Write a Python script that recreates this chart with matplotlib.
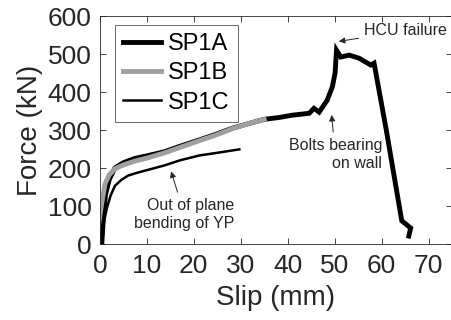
import matplotlib.pyplot as plt

plt.rcParams['font.family'] = ['Liberation Sans', 'DejaVu Sans']

# SP1A - thick black
sp1a_slip = [0.4, 0.8, 1.2, 2.0, 3.2, 5.0, 7.4, 10.0, 13.8, 17.0, 21.2, 25.0, 28.3,
             32.0, 35.0, 38.2, 41.0, 44.6, 45.6, 46.7, 48.4, 49.5, 50.1, 50.4,
             51.3, 53.1, 55.2, 57.0, 57.7, 58.4, 61.0, 64.3, 66.2, 65.8]
sp1a_force = [0, 80, 130, 170, 200, 214, 225, 232, 243, 257, 274, 290, 305,
              318, 328, 333, 339, 344, 357, 347, 378, 413, 450, 510,
              492, 497, 489, 476, 471, 476, 300, 61, 42, 21]

# SP1B - thick grey
sp1b_slip = [-0.4, 0.3, 1.1, 2.0, 3.2, 5.0, 7.4, 10.0, 13.8, 17.0, 21.2, 25.0, 28.3, 32.0, 35.0]
sp1b_force = [40, 100, 159, 182, 198, 208, 218, 226, 240, 254, 272, 288, 304, 318, 328]

# SP1C - thin black
sp1c_slip = [0.4, 0.8, 1.5, 2.3, 3.2, 4.5, 6.0, 7.8, 9.6, 13.8, 17.0, 21.2, 25.0, 29.7]
sp1c_force = [0, 55, 95, 128, 153, 168, 180, 187, 193, 207, 220, 233, 240, 249]

fig = plt.figure(figsize=(4.52, 3.2), dpi=100)
ax = fig.add_axes([0.221, 0.2375, 0.779, 0.7125])

ax.plot(sp1a_slip, sp1a_force, color='k', lw=3.5, label='SP1A', solid_joinstyle='miter')
ax.plot(sp1b_slip, sp1b_force, color='#a0a0a0', lw=3.5, label='SP1B')
ax.plot(sp1c_slip, sp1c_force, color='k', lw=1.8, label='SP1C')

ax.set_xlim(0, 75)
ax.set_ylim(0, 600)
ax.set_xticks(range(0, 80, 10))
ax.set_yticks(range(0, 700, 100))
ax.tick_params(direction='in', top=True, right=True, length=4, width=0.6,
               labelsize=19, colors='#262626')
ax.tick_params(axis='x', pad=7)
ax.tick_params(axis='y', pad=6)
for s in ax.spines.values():
    s.set_linewidth(0.6)
    s.set_color('#262626')

ax.set_xlabel('Slip (mm)', fontsize=20, color='#262626', labelpad=5)
ax.set_ylabel('Force (kN)', fontsize=20, color='#262626', labelpad=3)

leg = ax.legend(loc='upper left', fontsize=17, frameon=True, fancybox=False,
                handlelength=1.6, handletextpad=0.3, borderpad=0.35,
                labelspacing=0.3, borderaxespad=0, bbox_to_anchor=(0.043, 0.96))
leg.get_frame().set_edgecolor('#262626')
leg.get_frame().set_linewidth(0.6)

arrow = dict(arrowstyle='-|>', color='#262626', lw=0.7, mutation_scale=9)
ax.annotate('HCU failure', xy=(50.3, 532), xytext=(56.3, 561), fontsize=11.5,
            color='#262626', ha='left', va='center', arrowprops=arrow)
ax.annotate('Bolts bearing\non wall', xy=(49.3, 347), xytext=(60.1, 280), fontsize=11.5,
            color='#262626', ha='right', va='top', arrowprops=arrow,
            linespacing=1.3)
ax.annotate('Out of plane\nbending of YP', xy=(15.0, 198), xytext=(28.7, 122), fontsize=11.5,
            color='#262626', ha='right', va='top', arrowprops=arrow,
            linespacing=1.3)

fig.savefig('out.png', dpi=100)
